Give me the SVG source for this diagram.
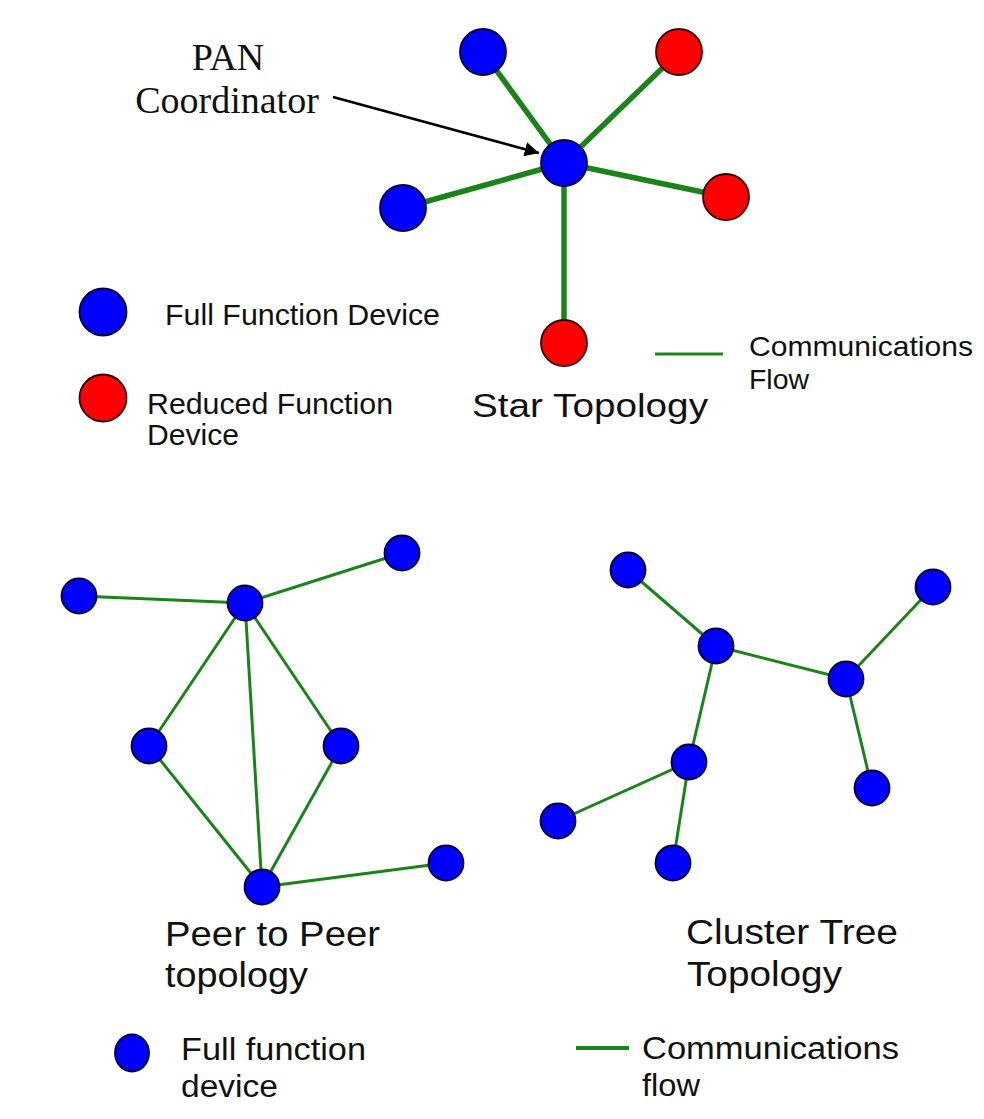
<svg xmlns="http://www.w3.org/2000/svg" width="984" height="1119" viewBox="0 0 984 1119">
<style>
.ffd{fill:#0000ff;stroke:#000033;stroke-width:1.8}
.rfd{fill:#ff0000;stroke:#330000;stroke-width:1.8}
.star{stroke:#1a841a;stroke-width:5.5;stroke-linecap:butt}
.thin{stroke:#1a841a;stroke-width:3}
.sans{font-family:"Liberation Sans",Arial,sans-serif;fill:#111}
.serif{font-family:"Liberation Serif","Times New Roman",serif;fill:#111;font-size:38px}
</style>
<defs>
<marker id="ah" viewBox="0 0 10 10" refX="10" refY="5" markerWidth="5.5" markerHeight="5.5" orient="auto" markerUnits="strokeWidth">
<path d="M0,0 L10,5 L0,10 z" fill="#000"/>
</marker>
</defs>
<rect width="984" height="1119" fill="#fff"/>

<g id="connectors">
<line class="star" x1="564" y1="163" x2="483" y2="52"/>
<line class="star" x1="564" y1="163" x2="679" y2="52"/>
<line class="star" x1="564" y1="163" x2="403" y2="208"/>
<line class="star" x1="564" y1="163" x2="726" y2="197"/>
<line class="star" x1="564" y1="163" x2="564" y2="343"/>
<line x1="333" y1="97" x2="539" y2="153" stroke="#000" stroke-width="2.6" marker-end="url(#ah)"/>
<line class="thin" x1="79" y1="596" x2="245" y2="603"/>
<line class="thin" x1="245" y1="603" x2="402" y2="553"/>
<line class="thin" x1="245" y1="603" x2="149" y2="746"/>
<line class="thin" x1="245" y1="603" x2="341" y2="746"/>
<line class="thin" x1="245" y1="603" x2="262" y2="887"/>
<line class="thin" x1="149" y1="746" x2="262" y2="887"/>
<line class="thin" x1="341" y1="746" x2="262" y2="887"/>
<line class="thin" x1="262" y1="887" x2="446" y2="863"/>
<line class="thin" x1="628" y1="570" x2="716" y2="646"/>
<line class="thin" x1="716" y1="646" x2="846" y2="679"/>
<line class="thin" x1="846" y1="679" x2="933" y2="587"/>
<line class="thin" x1="846" y1="679" x2="872" y2="788"/>
<line class="thin" x1="716" y1="646" x2="689" y2="762"/>
<line class="thin" x1="689" y1="762" x2="558" y2="821"/>
<line class="thin" x1="689" y1="762" x2="673" y2="863"/>
</g>

<g id="star-nodes">
<circle id="s-center" class="ffd" cx="564" cy="163" r="23"/>
<circle id="s-tl" class="ffd" cx="483" cy="52" r="23"/>
<circle id="s-tr" class="rfd" cx="679" cy="52" r="23"/>
<circle id="s-l" class="ffd" cx="403" cy="208" r="23"/>
<circle id="s-r" class="rfd" cx="726" cy="197" r="23"/>
<circle id="s-b" class="rfd" cx="564" cy="343" r="23"/>
</g>

<g id="pan-label">
<text class="serif" x="228" y="70" text-anchor="middle">PAN</text>
<text class="serif" x="227" y="113" text-anchor="middle">Coordinator</text>
</g>

<g id="legend-top">
<circle class="ffd" cx="103" cy="312" r="23.5"/>
<text class="sans" x="165" y="325" font-size="29" textLength="275" lengthAdjust="spacingAndGlyphs">Full Function Device</text>
<circle class="rfd" cx="103" cy="398" r="23.5"/>
<text class="sans" x="147" y="414" font-size="30" textLength="246" lengthAdjust="spacingAndGlyphs">Reduced Function</text>
<text class="sans" x="147" y="445" font-size="30" textLength="92" lengthAdjust="spacingAndGlyphs">Device</text>
<line x1="655" y1="354" x2="723" y2="354" stroke="#1a841a" stroke-width="3"/>
<text class="sans" x="749" y="356" font-size="28" textLength="224" lengthAdjust="spacingAndGlyphs">Communications</text>
<text class="sans" x="749" y="389" font-size="28" textLength="60" lengthAdjust="spacingAndGlyphs">Flow</text>
<text class="sans" x="472" y="417" font-size="34" textLength="236" lengthAdjust="spacingAndGlyphs">Star Topology</text>
</g>

<g id="p2p-nodes">
<circle id="p-a" class="ffd" cx="79" cy="596" r="17.5"/>
<circle id="p-hub" class="ffd" cx="245" cy="603" r="17.5"/>
<circle id="p-c" class="ffd" cx="402" cy="553" r="17.5"/>
<circle id="p-d" class="ffd" cx="149" cy="746" r="17.5"/>
<circle id="p-e" class="ffd" cx="341" cy="746" r="17.5"/>
<circle id="p-f" class="ffd" cx="262" cy="887" r="17.5"/>
<circle id="p-g" class="ffd" cx="446" cy="863" r="17.5"/>
</g>

<g id="cluster-nodes">
<circle id="c-a" class="ffd" cx="628" cy="570" r="17.5"/>
<circle id="c-b" class="ffd" cx="716" cy="646" r="17.5"/>
<circle id="c-c" class="ffd" cx="933" cy="587" r="17.5"/>
<circle id="c-d" class="ffd" cx="846" cy="679" r="17.5"/>
<circle id="c-e" class="ffd" cx="872" cy="788" r="17.5"/>
<circle id="c-f" class="ffd" cx="689" cy="762" r="17.5"/>
<circle id="c-g" class="ffd" cx="558" cy="821" r="17.5"/>
<circle id="c-h" class="ffd" cx="673" cy="863" r="17.5"/>
</g>

<g id="bottom-labels">
<text class="sans" x="165" y="946" font-size="35" textLength="215" lengthAdjust="spacingAndGlyphs">Peer to Peer</text>
<text class="sans" x="165" y="987" font-size="35" textLength="143" lengthAdjust="spacingAndGlyphs">topology</text>
<text class="sans" x="686" y="944" font-size="35" textLength="212" lengthAdjust="spacingAndGlyphs">Cluster Tree</text>
<text class="sans" x="687" y="986" font-size="35" textLength="155" lengthAdjust="spacingAndGlyphs">Topology</text>
</g>

<g id="legend-bottom">
<ellipse class="ffd" cx="132" cy="1053" rx="17" ry="18.5"/>
<text class="sans" x="181" y="1060" font-size="31" textLength="185" lengthAdjust="spacingAndGlyphs">Full function</text>
<text class="sans" x="181" y="1097" font-size="31" textLength="97" lengthAdjust="spacingAndGlyphs">device</text>
<line x1="576" y1="1048" x2="629" y2="1048" stroke="#1a841a" stroke-width="4"/>
<text class="sans" x="642" y="1059" font-size="31" textLength="257" lengthAdjust="spacingAndGlyphs">Communications</text>
<text class="sans" x="642" y="1096" font-size="31" textLength="58" lengthAdjust="spacingAndGlyphs">flow</text>
</g>
</svg>
